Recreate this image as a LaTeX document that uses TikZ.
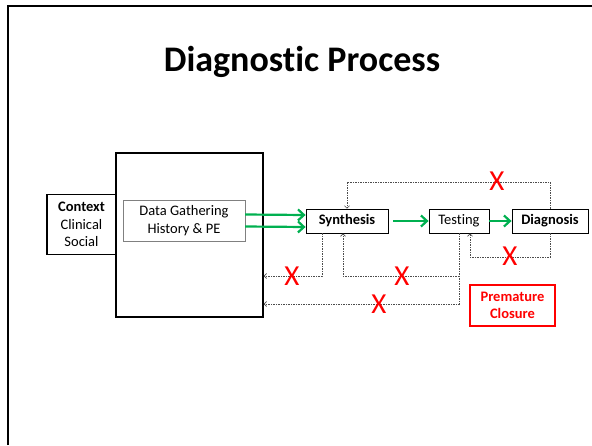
\documentclass[tikz,border=0pt]{standalone}
\usepackage{fontspec}
\setmainfont{Carlito}[RawFeature=-liga]
\usetikzlibrary{arrows.meta, positioning, calc}
\definecolor{pGreen}{RGB}{0,176,80}
\definecolor{pRed}{RGB}{255,0,0}

\begin{document}
\begin{tikzpicture}[
    x=1pt, y=-1pt,
    box/.style={draw, inner sep=0pt, align=center, font=\fontsize{14.5}{17.5}\selectfont},
    stage/.style={box, minimum height=24pt, line width=0.8pt},
    greenarr/.style={-{Straight Barb[length=6pt, width=11pt]}, line width=2.2pt, color=pGreen},
    dotline/.style={-{Straight Barb[length=2.5pt, width=5pt]}, line width=0.6pt, color=black!70,
        dash pattern=on 1.5pt off 1pt},
    cross/.style={inner sep=0pt, text=pRed, font=\fontsize{29}{31}\selectfont}
]
    \useasboundingbox (0,0) rectangle (592,445);

    % Rahmen und Titel
    \draw[line width=2pt] (7.5,445) -- (7.5,5.5) -- (592,5.5);
    \node[font=\fontsize{36}{40}\selectfont\bfseries] (title) at (302,62) {Diagnostic Process};

    % linke Seite
    \node[box, minimum width=147pt, minimum height=164pt, line width=1.4pt] (workup) at (189.5,235) {};
    \node[box, minimum width=69pt, minimum height=60pt, line width=1.6pt] (context) at (81.5,224.5)
        {\textbf{Context}\\Clinical\\Social};
    \node[box, draw=black!50, minimum width=122pt, minimum height=41pt] (gather) at (184,220.5)
        {Data Gathering\\History \& PE};

    % Stufen
    \node[stage, minimum width=82pt, font=\fontsize{14.5}{17.5}\selectfont\bfseries] (synth) at (347,221) {Synthesis};
    \node[stage, minimum width=60pt] (testing) at (459,221) {Testing};
    \node[stage, minimum width=76pt, font=\fontsize{14.5}{17.5}\selectfont\bfseries] (diag) at (550,221) {Diagnosis};
    \node[box, draw=pRed, text=pRed, line width=1.8pt, minimum width=85pt, minimum height=41pt,
        font=\fontsize{14.5}{17.5}\selectfont\bfseries] (closure) at (512.5,305.5) {Premature\\Closure};

    % Hauptfluss
    \draw[greenarr] ([yshift=6pt]gather.east) -- ([yshift=6pt]synth.west);
    \draw[greenarr] ([yshift=-6pt]gather.east) -- ([yshift=-6pt]synth.west);
    \draw[greenarr, shorten <=5pt] (synth) -- (testing);
    \draw[greenarr] (testing) -- (diag);

    % Rueckkopplungen (gepunktet)
    \coordinate (ytop) at (0,182);
    \coordinate (ydiag) at (0,257);
    \coordinate (yup) at (0,276);
    \coordinate (ylow) at (0,304);
    \coordinate (synthout) at ($(synth.south)+(-25,0)$);
    \coordinate (synthin) at ($(synth.south)+(-4,0)$);
    \coordinate (testin) at ($(testing.south)+(11,0)$);

    \draw[dotline] (diag.north) -- (diag.north |- ytop) -| (synth.north);
    \draw[dotline] (diag.south) -- (diag.south |- ydiag) -| (testin);
    \draw[dotline] (synthout) |- (workup.east |- yup);
    \draw[dotline] (testing.south) |- (workup.east |- ylow);
    \draw[dotline] (testing.south |- yup) -| (synthin);

    % Kreuze
    \node[cross] (xtop) at (497,181) {X};
    \node[cross] (xdiag) at (510,256) {X};
    \node[cross] (xsynth) at (292,276) {X};
    \node[cross] (xtest) at (402,276) {X};
    \node[cross] (xlow) at (379,304) {X};
\end{tikzpicture}
\end{document}
